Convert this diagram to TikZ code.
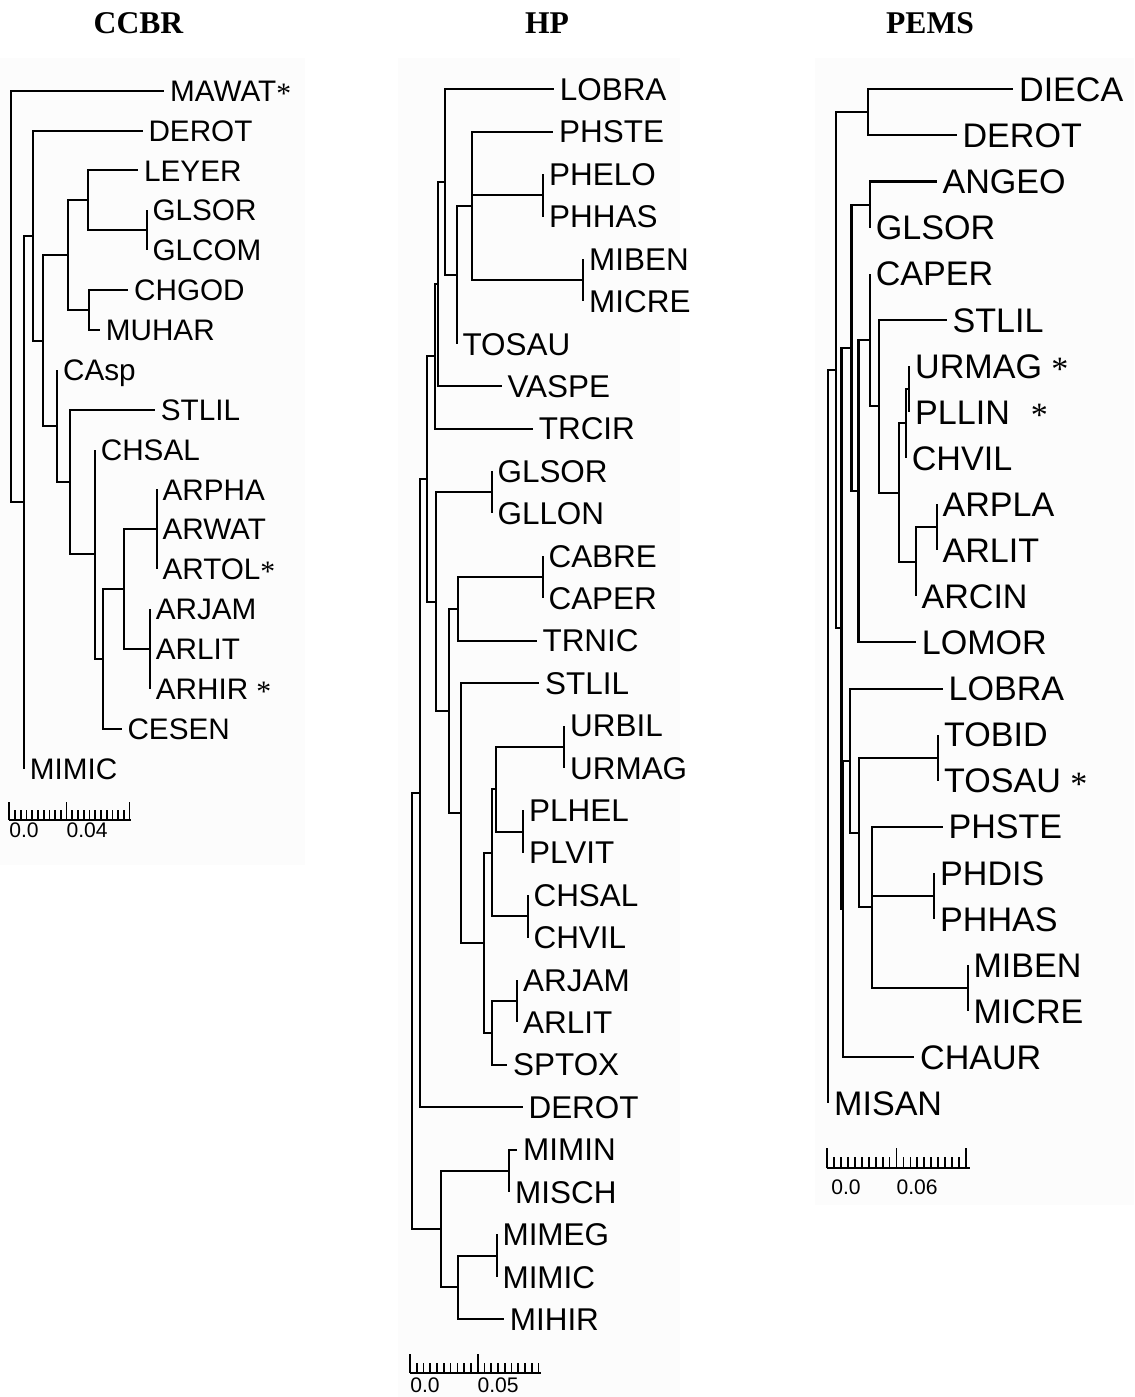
\documentclass[tikz,border=0pt]{standalone}
\usepackage{fontspec}
\setmainfont{Liberation Sans}
\newfontfamily\serifbf{Liberation Serif}
\newcommand\stara{{\serifbf\raisebox{-0.07em}{*}}}
\newcommand\lf[6]{%
  \coordinate (e#1) at (#3,#4);
  \node[#5] (#1) at ({#3+5.5},#4) {#6};
  \draw[br] (#2) |- (e#1);}
\tikzset{
  br/.style={line width=1.15pt, line join=miter},
  lc/.style={anchor=west, inner sep=0pt, font=\fontsize{16.9}{18}\selectfont, text height=12.1pt, text depth=0pt},
  lh/.style={anchor=west, inner sep=0pt, font=\fontsize{17.9}{19}\selectfont, text height=12.8pt, text depth=0pt},
  lp/.style={anchor=west, inner sep=0pt, font=\fontsize{19.4}{21}\selectfont, text height=13.9pt, text depth=0pt},
  ttl/.style={anchor=base, inner sep=0pt, font=\serifbf\bfseries\fontsize{18}{20}\selectfont},
  sc/.style={anchor=base west, inner sep=0pt, font=\fontsize{12}{13}\selectfont},
  panel/.style={fill=black!1.3},
  tk/.style={line width=0.95pt}
}
\begin{document}
\begin{tikzpicture}[x=0.02cm,y=-0.02cm]
\useasboundingbox (0,0) rectangle (1134,1397);
\fill[white] (0,0) rectangle (1134,1397);
\fill[panel] (0,58) rectangle (305,865);
\fill[panel] (398,58) rectangle (680,1397);
\fill[panel] (815,58) rectangle (1134,1205);

% titles
\node[ttl] (tCCBR) at (138.5,33) {CCBR};
\node[ttl] (tHP) at (547,33) {HP};
\node[ttl] (tPEMS) at (930,33) {PEMS};

% ================= CCBR =================
\coordinate (c0) at (11,296.4);
\coordinate (cZ) at (24,502);
\coordinate (cDE) at (33.3,235.6);
\coordinate (cY) at (43.3,340.6);
\coordinate (cX) at (67.7,255.2);
\coordinate (cLE) at (87.7,200.3);
\coordinate (cGL) at (146.7,230.3);
\coordinate (cCM) at (89.3,310);
\coordinate (cCA) at (57.3,425.9);
\coordinate (cST) at (70,482);
\coordinate (cCH) at (95,554.2);
\coordinate (cCE) at (103.3,658.9);
\coordinate (cAR) at (124,589.1);
\coordinate (cAR1) at (156.7,529.3);
\coordinate (cAR2) at (150,648.9);
\foreach \p/\c in {c0/cZ,cZ/cDE,cDE/cY,cY/cX,cX/cLE,cLE/cGL,cX/cCM,cY/cCA,cCA/cST,cST/cCH,cCH/cCE,cCE/cAR,cAR/cAR1,cAR/cAR2}
  \draw[br] (\p) |- (\c);
\lf{cMAWAT}{c0}{164.3}{90.7}{lc}{MAWAT\stara}
\lf{cDEROT}{cDE}{142.7}{130.6}{lc}{DEROT}
\lf{cLEYER}{cLE}{138.3}{170.4}{lc}{LEYER}
\lf{cGLSOR}{cGL}{146.7}{210.3}{lc}{GLSOR}
\lf{cGLCOM}{cGL}{146.7}{250.2}{lc}{GLCOM}
\lf{cCHGOD}{cCM}{128.3}{290.1}{lc}{CHGOD}
\lf{cMUHAR}{cCM}{100}{329.9}{lc}{MUHAR}
\lf{cCAsp}{cCA}{57.3}{369.8}{lc}{CAsp}
\lf{cSTLIL}{cST}{155}{409.7}{lc}{STLIL}
\lf{cCHSAL}{cCH}{95}{449.5}{lc}{CHSAL}
\lf{cARPHA}{cAR1}{156.7}{489.4}{lc}{ARPHA}
\lf{cARWAT}{cAR1}{156.7}{529.3}{lc}{ARWAT}
\lf{cARTOL}{cAR1}{156.7}{569.1}{lc}{ARTOL\stara}
\lf{cARJAM}{cAR2}{150}{609.0}{lc}{ARJAM}
\lf{cARLIT}{cAR2}{150}{648.9}{lc}{ARLIT}
\lf{cARHIR}{cAR2}{150}{688.8}{lc}{ARHIR\ \stara}
\lf{cCESEN}{cCE}{121.7}{728.6}{lc}{CESEN}
\lf{cMIMIC}{cZ}{24}{768.5}{lc}{MIMIC}
% scale CCBR
\draw[tk] (9.3,820) coordinate (cs0) -- (130.7,820) coordinate (cs1);
\foreach \k in {0,...,21}{
  \pgfmathsetmacro\xx{9.3+5.73*\k}
  \ifnum\k=0 \draw[tk] (\xx,820) -- (\xx,801.5);
  \else\ifnum\k=10 \draw[tk] (\xx,820) -- (\xx,801.5);
  \else\ifnum\k=21 \draw[tk] (\xx,820) -- (\xx,801.5);
  \else \draw[tk] (\xx,820) -- (\xx,810);\fi\fi\fi}
\node[sc] (cl0) at (9,837.3) {0.0};
\node[sc] (cl1) at (66.2,837.3) {0.04};

% ================= HP =================
\coordinate (hQ) at (411.7,1011);
\coordinate (hP) at (420,793);
\coordinate (hF) at (426.7,479);
\coordinate (hE) at (435.3,356.4);
\coordinate (hD) at (437.7,284.2);
\coordinate (hC) at (445,182.1);
\coordinate (hB) at (456.7,274.9);
\coordinate (hA) at (471.7,206);
\coordinate (hPH) at (543.3,195.3);
\coordinate (hMI) at (583.3,280.2);
\coordinate (hG) at (435.7,601.5);
\coordinate (hGL) at (491.7,492.2);
\coordinate (hH) at (449.3,710.9);
\coordinate (hI) at (458.3,608.8);
\coordinate (hCA) at (542.7,577);
\coordinate (hJ) at (461,812.9);
\coordinate (hK) at (484,942.8);
\coordinate (hO) at (492.3,852.7);
\coordinate (hN) at (495.7,789.1);
\coordinate (hUR) at (564.3,746.7);
\coordinate (hPL) at (523.3,831.5);
\coordinate (hCH) at (527.7,916.3);
\coordinate (hM) at (492.3,1032.9);
\coordinate (hAR) at (517.3,1001.1);
\coordinate (hR) at (440.7,1229);
\coordinate (hMM) at (509.3,1170.7);
\coordinate (hS) at (458.3,1287.4);
\coordinate (hME) at (496.7,1255.6);
\foreach \p/\c in {hQ/hP,hQ/hR,hP/hF,hF/hE,hF/hG,hE/hD,hD/hC,hC/hB,hB/hA,hA/hPH,hA/hMI,hG/hGL,hG/hH,hH/hI,hH/hJ,hI/hCA,hJ/hK,hK/hO,hK/hM,hO/hN,hO/hCH,hN/hUR,hN/hPL,hM/hAR,hR/hMM,hR/hS,hS/hME}
  \draw[br] (\p) |- (\c);
\lf{hLOBRA}{hC}{554}{89.3}{lh}{LOBRA}
\lf{hPHSTE}{hA}{553.3}{131.7}{lh}{PHSTE}
\lf{hPHELO}{hPH}{543.3}{174.1}{lh}{PHELO}
\lf{hPHHAS}{hPH}{543.3}{216.5}{lh}{PHHAS}
\lf{hMIBEN}{hMI}{583.3}{258.9}{lh}{MIBEN}
\lf{hMICRE}{hMI}{583.3}{301.4}{lh}{MICRE}
\lf{hTOSAU}{hB}{456.7}{343.8}{lh}{TOSAU}
\lf{hVASPE}{hD}{501.7}{386.2}{lh}{VASPE}
\lf{hTRCIR}{hE}{533}{428.6}{lh}{TRCIR}
\lf{hGLSOR}{hGL}{491.7}{471.0}{lh}{GLSOR}
\lf{hGLLON}{hGL}{491.7}{513.4}{lh}{GLLON}
\lf{hCABRE}{hCA}{542.7}{555.8}{lh}{CABRE}
\lf{hCAPER}{hCA}{542.7}{598.2}{lh}{CAPER}
\lf{hTRNIC}{hI}{536.7}{640.6}{lh}{TRNIC}
\lf{hSTLIL}{hJ}{539.3}{683.0}{lh}{STLIL}
\lf{hURBIL}{hUR}{564.3}{725.5}{lh}{URBIL}
\lf{hURMAG}{hUR}{564.3}{767.9}{lh}{URMAG}
\lf{hPLHEL}{hPL}{523.3}{810.3}{lh}{PLHEL}
\lf{hPLVIT}{hPL}{523.3}{852.7}{lh}{PLVIT}
\lf{hCHSAL}{hCH}{527.7}{895.1}{lh}{CHSAL}
\lf{hCHVIL}{hCH}{527.7}{937.5}{lh}{CHVIL}
\lf{hARJAM}{hAR}{517.3}{979.9}{lh}{ARJAM}
\lf{hARLIT}{hAR}{517.3}{1022.3}{lh}{ARLIT}
\lf{hSPTOX}{hM}{507.3}{1064.7}{lh}{SPTOX}
\lf{hDEROT}{hP}{522.7}{1107.1}{lh}{DEROT}
\lf{hMIMIN}{hMM}{517.3}{1149.5}{lh}{MIMIN}
\lf{hMISCH}{hMM}{509.3}{1191.9}{lh}{MISCH}
\lf{hMIMEG}{hME}{496.7}{1234.4}{lh}{MIMEG}
\lf{hMIMIC}{hME}{496.7}{1276.8}{lh}{MIMIC}
\lf{hMIHIR}{hS}{504}{1319.2}{lh}{MIHIR}
% scale HP
\draw[tk] (410,1372.7) coordinate (hs0) -- (540.7,1372.7) coordinate (hs1);
\foreach \k in {0,...,19}{
  \pgfmathsetmacro\xx{410+6.77*\k}
  \ifnum\k=0 \draw[tk] (\xx,1372.7) -- (\xx,1354);
  \else\ifnum\k=10 \draw[tk] (\xx,1372.7) -- (\xx,1354);
  \else \draw[tk] (\xx,1372.7) -- (\xx,1363.3);\fi\fi}
\node[sc] (hl0) at (410,1392.7) {0.0};
\node[sc] (hl1) at (477.2,1392.7) {0.05};

% ================= PEMS =================
\coordinate (p0) at (828.3,736.9);
\coordinate (pDU) at (836,370.4);
\coordinate (pDD) at (867.7,112.4);
\coordinate (pU) at (841.5,628.4);
\coordinate (pW) at (851.5,347.9);
\coordinate (pAG) at (870,204.6);
\coordinate (pX) at (858.5,491.2);
\coordinate (pY) at (870,340);
\coordinate (pZ) at (878.8,406.2);
\coordinate (pAA) at (899.2,492.6);
\coordinate (pBB) at (906,423.4);
\coordinate (pUP) at (909.3,388.9);
\coordinate (pCC) at (915.7,561.7);
\coordinate (pARc) at (936.7,527.2);
\coordinate (pV) at (843,908.9);
\coordinate (pL) at (850,760.6);
\coordinate (pT) at (859.3,832.6);
\coordinate (pTO) at (938.3,757.7);
\coordinate (pPH) at (872.3,907.4);
\coordinate (pPH2) at (934.3,895.9);
\coordinate (pMI) at (967.7,988.1);
\foreach \p/\c in {p0/pDU,pDU/pDD,pDU/pU,pU/pW,pU/pV,pW/pAG,pW/pX,pX/pY,pY/pZ,pZ/pAA,pAA/pBB,pAA/pCC,pBB/pUP,pCC/pARc,pV/pL,pL/pT,pT/pTO,pT/pPH,pPH/pPH2,pPH/pMI}
  \draw[br] (\p) |- (\c);
\lf{pDIECA}{pDD}{1013.3}{89.3}{lp}{DIECA}
\lf{pDEROT}{pDD}{956.7}{135.4}{lp}{DEROT}
\lf{pANGEO}{pAG}{936.7}{181.5}{lp}{ANGEO}
\lf{pGLSOR}{pAG}{870}{227.6}{lp}{GLSOR}
\lf{pCAPER}{pY}{870}{273.7}{lp}{CAPER}
\lf{pSTLIL}{pZ}{946.7}{319.8}{lp}{STLIL}
\lf{pURMAG}{pUP}{909.3}{365.8}{lp}{URMAG\ \stara}
\lf{pPLLIN}{pUP}{909.3}{411.9}{lp}{PLLIN\hspace{12pt}\stara}
\lf{pCHVIL}{pBB}{906}{458.0}{lp}{CHVIL}
\lf{pARPLA}{pARc}{936.7}{504.1}{lp}{ARPLA}
\lf{pARLIT}{pARc}{936.7}{550.2}{lp}{ARLIT}
\lf{pARCIN}{pCC}{915.7}{596.3}{lp}{ARCIN}
\lf{pLOMOR}{pX}{916}{642.4}{lp}{LOMOR}
\lf{pLOBRA}{pL}{942.7}{688.5}{lp}{LOBRA}
\lf{pTOBID}{pTO}{938.3}{734.6}{lp}{TOBID}
\lf{pTOSAU}{pTO}{938.3}{780.7}{lp}{TOSAU\ \stara}
\lf{pPHSTE}{pPH}{942.7}{826.7}{lp}{PHSTE}
\lf{pPHDIS}{pPH2}{934.3}{872.8}{lp}{PHDIS}
\lf{pPHHAS}{pPH2}{934.3}{918.9}{lp}{PHHAS}
\lf{pMIBEN}{pMI}{967.7}{965.0}{lp}{MIBEN}
\lf{pMICRE}{pMI}{967.7}{1011.1}{lp}{MICRE}
\lf{pCHAUR}{pV}{914.3}{1057.2}{lp}{CHAUR}
\lf{pMISAN}{p0}{828.3}{1103.3}{lp}{MISAN}
% scale PEMS
\draw[tk] (827.3,1168.3) coordinate (ps0) -- (970,1168.3) coordinate (ps1);
\foreach \k in {0,...,20}{
  \pgfmathsetmacro\xx{827.3+6.92*\k}
  \ifnum\k=0 \draw[tk] (\xx,1168.3) -- (\xx,1148.3);
  \else\ifnum\k=10 \draw[tk] (\xx,1168.3) -- (\xx,1148.3);
  \else\ifnum\k=20 \draw[tk] (\xx,1168.3) -- (\xx,1148.3);
  \else \draw[tk] (\xx,1168.3) -- (\xx,1156.7);\fi\fi\fi}
\node[sc] (pl0) at (831,1194) {0.0};
\node[sc] (pl1) at (896.2,1194) {0.06};
\end{tikzpicture}
\end{document}
